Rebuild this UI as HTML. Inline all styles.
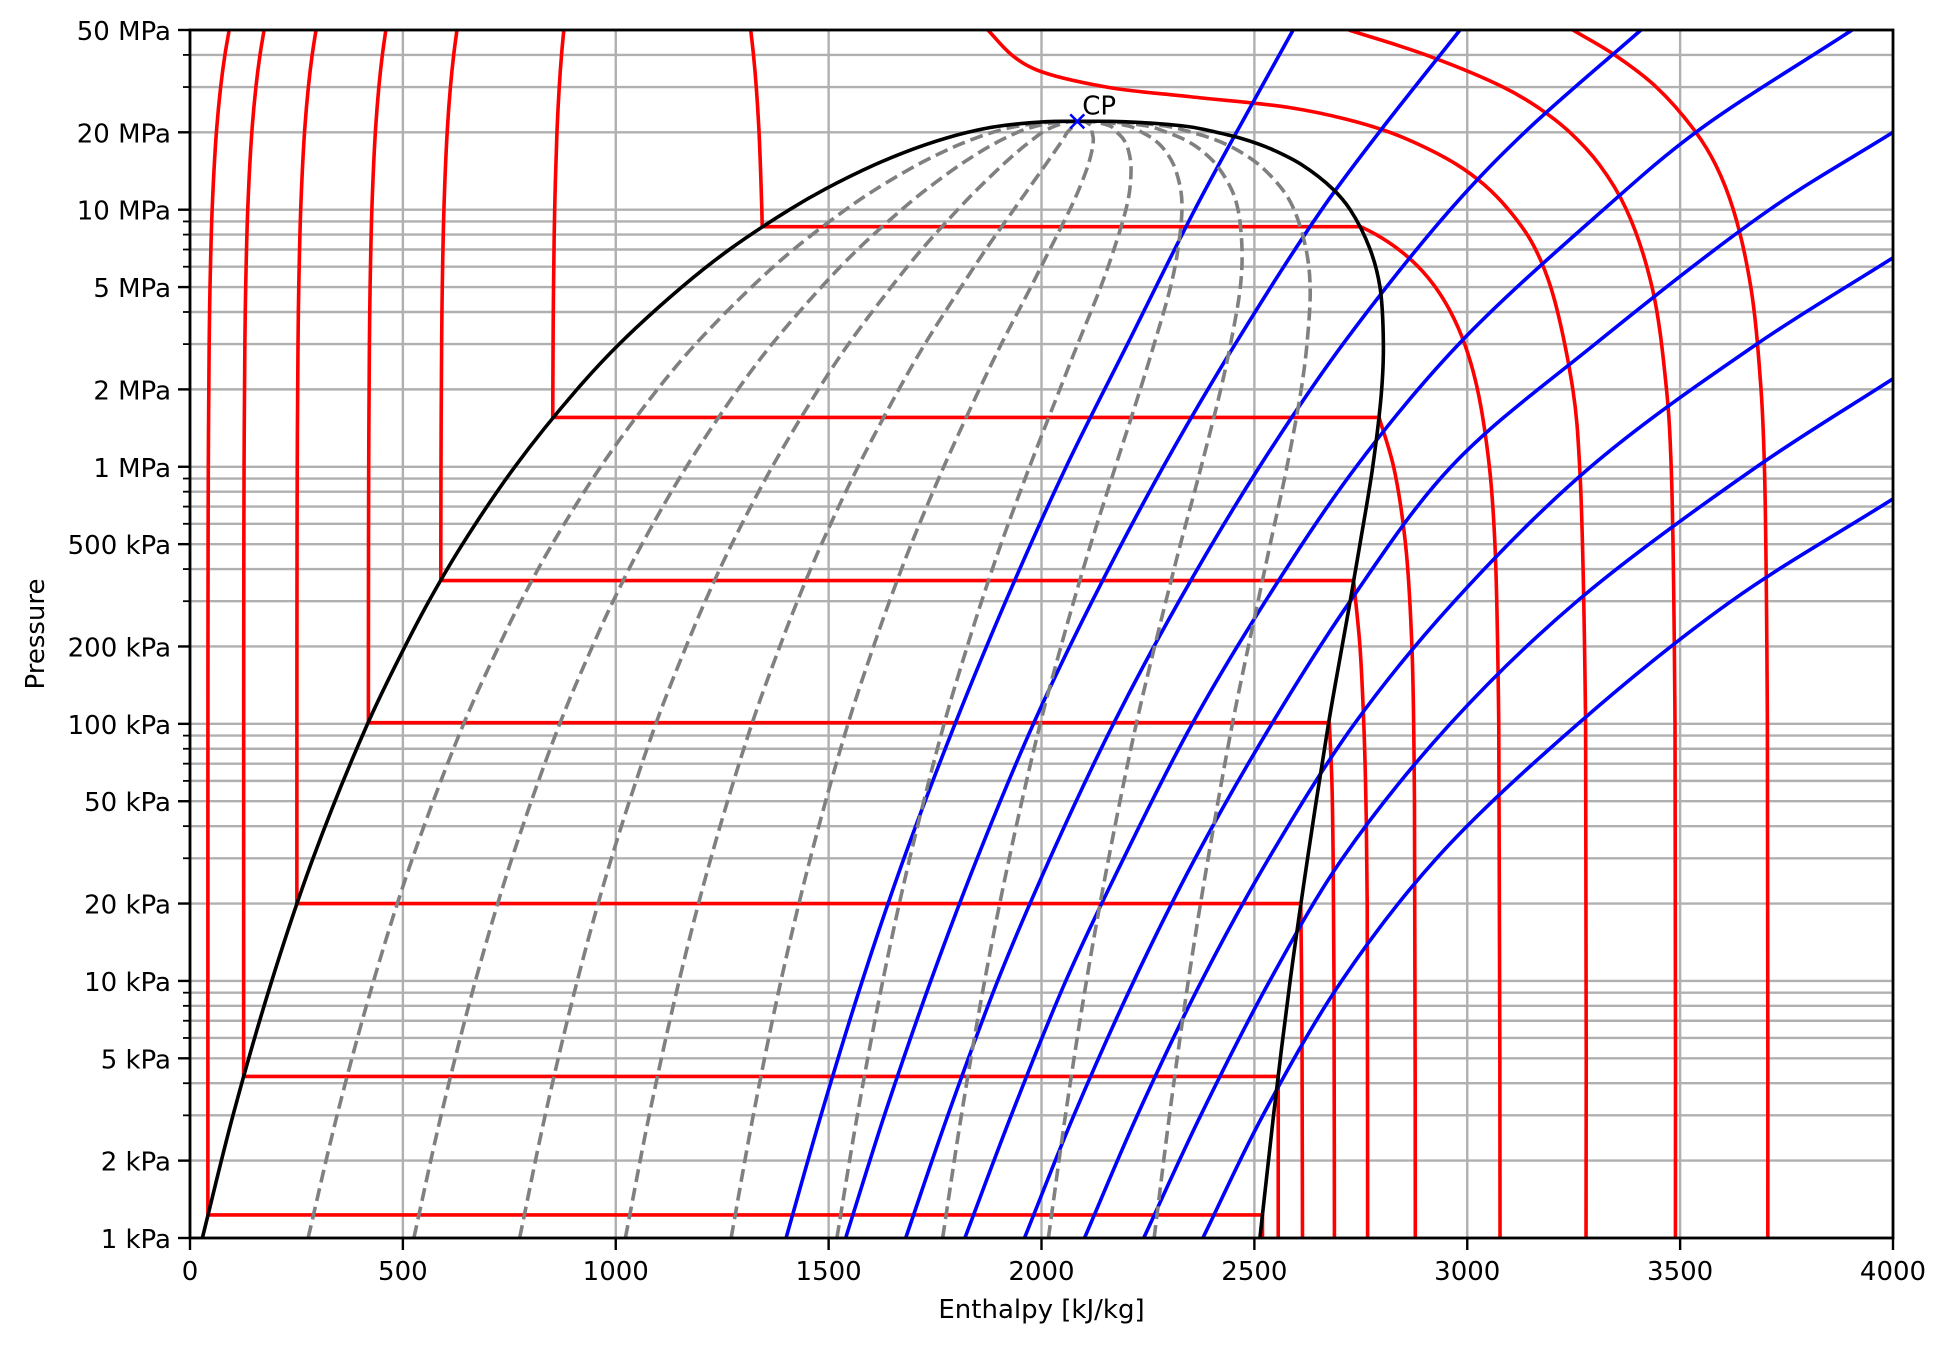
<!DOCTYPE html>
<html><head><meta charset="utf-8"><style>
html,body{margin:0;padding:0;background:#fff;}
svg{display:block;font-family:"DejaVu Sans","Liberation Sans",sans-serif;}
</style></head><body>
<svg id="chart" width="1949" height="1345" viewBox="0 0 1949 1345" xmlns="http://www.w3.org/2000/svg">
<defs><clipPath id="plotclip"><rect x="190" y="30" width="1703" height="1208"/></clipPath></defs>
<rect x="0" y="0" width="1949" height="1345" fill="#fff"/>
<g id="grid"></g>
<g id="series" clip-path="url(#plotclip)"></g>
<g id="axes"></g>
</svg>
<script>
// ---- axis tick data ----
const xTicks = [0,500,1000,1500,2000,2500,3000,3500,4000];
const yMajorVals = [1,2,5,10,20,50,100,200,500,1000,2000,5000,10000,20000,50000];
const yMajorLabels = ["1 kPa","2 kPa","5 kPa","10 kPa","20 kPa","50 kPa","100 kPa","200 kPa","500 kPa","1 MPa","2 MPa","5 MPa","10 MPa","20 MPa","50 MPa"];
const yMinorVals = [3,4,6,7,8,9,30,40,60,70,80,90,300,400,600,700,800,900,3000,4000,6000,7000,8000,9000,30000,40000];

// ---- saturation table (P kPa, hf, hg kJ/kg) ----
const satP  = [1,3,10,30,100,200,300,500,1000,2000,3000,5000,7000,10000,12000,15000,17000,18000,19000,20000,21000,22000,22064];
const satHf = [29,101,192,289,417,505,561,640,763,909,1008,1155,1267,1408,1491,1610,1690,1732,1777,1827,1889,2011,2084];
const satHg = [2513,2545,2584,2625,2674,2706,2725,2748,2778,2799,2803,2795,2772,2725,2685,2610,2547,2510,2466,2411,2349,2192,2084];
const qualities = [0.1,0.2,0.3,0.4,0.5,0.6,0.7,0.8,0.9];
const critical = [2084,22064];

// ---- subcritical isotherms ----
const isoT   = [10,30,60,100,140,200,300];
const isoPsat= [1.23,4.25,20,101,361,1555,8588];
const isoHf  = [42,126,251,419,589,852,1344];
const isoHtop= [92,174,296,460,627,878,1317];
const isoHg  = [2519,2556,2609,2676,2733,2793,2750];
const vapP10 = [1.23,1];            const vapH10 = [2519,2519];
const vapP30 = [4.25,1];            const vapH30 = [2556,2556];
const vapP60 = [20,10,5,1];         const vapH60 = [2609,2611,2612,2613];
const vapP100= [101,60,30,10,1];    const vapH100= [2676,2682,2685,2687,2688];
const vapP140= [361,200,100,50,20,1]; const vapH140=[2733,2748,2757,2762,2765,2766];
const vapP200= [1555,1000,500,200,50,1]; const vapH200=[2793,2827,2855,2870,2876,2878];
const vapP300= [8588,8000,7000,6000,5000,4000,3000,2000,1000,500,100,1];
const vapH300= [2750,2786,2839,2885,2925,2961,2994,3024,3052,3065,3074,3077];
// ---- supercritical isotherms ----
const supP400 = [50000,40000,35000,30000,27500,25000,22500,20000,17500,15000,12500,10000,7500,5000,2000,1000,100,1];
const supH400 = [1874,1930,1988,2152,2350,2580,2715,2818,2900,2975,3040,3097,3151,3196,3248,3264,3278,3279];
const supP500 = [50000,40000,30000,25000,20000,15000,10000,5000,2000,1000,100,1];
const supH500 = [2722,2903,3084,3166,3241,3310,3374,3434,3468,3479,3488,3489];
const supP600 = [50000,40000,30000,20000,15000,10000,5000,2000,1000,100,1];
const supH600 = [3248,3346,3444,3537,3583,3625,3666,3690,3698,3705,3706];

// ---- isentropes ----
const sP5   = [1,3,10,30,100,300,1000,3000,10000,20000,50000]; const sH5  = [1400,1482,1579,1677,1797,1916,2058,2202,2360,2458,2591];
const sP55  = [1,3,10,30,100,300,1000,3000,10000,20000,50000]; const sH55 = [1540,1631,1740,1849,1981,2119,2286,2455,2658,2793,2983];
const sP6   = [1,3,10,30,100,300,1000,3000,10000,20000,50000]; const sH6  = [1681,1780,1897,2020,2169,2323,2512,2708,2960,3135,3408];
const sP65  = [1,3,10,30,100,300,1000,3000,10000,20000,50000]; const sH65 = [1820,1929,2057,2193,2354,2526,2739,2980,3320,3537,3904];
const sP7   = [1,3,10,30,100,300,1000,3000,10000,20000];       const sH7  = [1960,2076,2217,2361,2541,2725,2962,3300,3710,4000];
const sP75  = [1,3,10,30,100,300,1000,3000,6500];              const sH75 = [2101,2225,2376,2534,2735,2970,3290,3680,4000];
const sP8   = [1,3,10,30,100,300,1000,2200];                   const sH8  = [2240,2374,2536,2707,2960,3258,3680,4000];
const sP85  = [1,3,10,30,100,300,750];                         const sH85 = [2379,2520,2705,2928,3260,3620,4000];

// ---- axes ----
const X0=190,X1=1893,Y0=1238,Y1=30,HMAX=4000,LMIN=0,LMAX=Math.log10(50000);
function sx(h){return X0+(h/HMAX)*(X1-X0);}
function sy(p){return Y0-(Math.log10(p)-LMIN)/(LMAX-LMIN)*(Y0-Y1);}
const NS="http://www.w3.org/2000/svg";
function mk(tag,attrs,parent){const e=document.createElementNS(NS,tag);for(const k in attrs)e.setAttribute(k,attrs[k]);parent.appendChild(e);return e;}
function dist(a,b){return Math.max(Math.hypot(a[0]-b[0],a[1]-b[1]),1e-6);}
function f2(v){return v.toFixed(2);}
function spline(pts,noMove){
  if(pts.length<2)return "";
  let d=noMove?"":"M"+f2(pts[0][0])+","+f2(pts[0][1]);
  if(pts.length===2)return d+"L"+f2(pts[1][0])+","+f2(pts[1][1]);
  const n=pts.length;
  for(let i=0;i<n-1;i++){
    const p1=pts[i],p2=pts[i+1];
    const p0=i>0?pts[i-1]:[2*p1[0]-p2[0],2*p1[1]-p2[1]];
    const p3=i<n-2?pts[i+2]:[2*p2[0]-p1[0],2*p2[1]-p1[1]];
    const d1=dist(p0,p1),d2=dist(p1,p2),d3=dist(p2,p3);
    const s1=Math.sqrt(d1),s2=Math.sqrt(d2),s3=Math.sqrt(d3);
    const b1=[0,1].map(k=>(d1*p2[k]-d2*p0[k]+(2*d1+3*s1*s2+d2)*p1[k])/(3*s1*(s1+s2)));
    const b2=[0,1].map(k=>(d3*p1[k]-d2*p3[k]+(2*d3+3*s3*s2+d2)*p2[k])/(3*s3*(s3+s2)));
    d+="C"+f2(b1[0])+","+f2(b1[1])+" "+f2(b2[0])+","+f2(b2[1])+" "+f2(p2[0])+","+f2(p2[1]);
  }
  return d;
}
function pix(H,P){return H.map((h,i)=>[sx(h),sy(P[i])]);}

const grid=document.getElementById('grid'),ser=document.getElementById('series'),ax=document.getElementById('axes');
xTicks.forEach(v=>{
  const l=mk('line',{x1:sx(v),x2:sx(v),y1:Y1,y2:Y0,stroke:'#b0b0b0','stroke-width':2.4},grid);
  
  
});
yMajorVals.concat(yMinorVals).forEach(v=>{
  const l=mk('line',{x1:X0,x2:X1,y1:sy(v),y2:sy(v),stroke:'#b0b0b0','stroke-width':2.4},grid);
  
  
});

// isotherms
const vapPs=[vapP10,vapP30,vapP60,vapP100,vapP140,vapP200,vapP300];
const vapHs=[vapH10,vapH30,vapH60,vapH100,vapH140,vapH200,vapH300];
const liqPs=[1,3,10,30,100,300,1000,3000,5000,10000,20000,30000,40000,50000];
isoT.forEach((T,i)=>{
  const ps=isoPsat[i];
  const lp=[ps].concat(liqPs.filter(p=>p>ps*1.05));
  const liq=lp.map(p=>[sx(isoHf[i]+(isoHtop[i]-isoHf[i])*(p-ps)/(50000-ps)),sy(p)]);
  liq.reverse();
  let d=spline(liq);
  d+="L"+f2(sx(isoHg[i]))+","+f2(sy(ps));
  d+=spline(pix(vapHs[i],vapPs[i]),true);
  const path=mk('path',{d:d,fill:'none',stroke:'#ff0000','stroke-width':3.6,'stroke-linejoin':'round'},ser);
  
  
});
[[supH400,supP400,400],[supH500,supP500,500],[supH600,supP600,600]].forEach(a=>{
  const path=mk('path',{d:spline(pix(a[0],a[1])),fill:'none',stroke:'#ff0000','stroke-width':3.6},ser);
  
  
});

// isentropes
[[sH5,sP5,'5'],[sH55,sP55,'5-5'],[sH6,sP6,'6'],[sH65,sP65,'6-5'],[sH7,sP7,'7'],[sH75,sP75,'7-5'],[sH8,sP8,'8'],[sH85,sP85,'8-5']].forEach(a=>{
  const path=mk('path',{d:spline(pix(a[0],a[1])),fill:'none',stroke:'#0000ff','stroke-width':3.6},ser);
  
  
});

// quality lines
qualities.forEach(q=>{
  const pts=satP.map((p,i)=>[sx(satHf[i]+q*(satHg[i]-satHf[i])),sy(p)]);
  const path=mk('path',{d:spline(pts),fill:'none',stroke:'#808080','stroke-width':3.6,'stroke-dasharray':'13,6'},ser);
  
  
});

// saturation dome
(function(){
  const liq=satP.map((p,i)=>[sx(satHf[i]),sy(p)]);
  const vap=satP.map((p,i)=>[sx(satHg[i]),sy(p)]).reverse().slice(1);
  const path=mk('path',{d:spline(liq.concat(vap)),fill:'none',stroke:'#000','stroke-width':3.6},ser);
  
  
})();

// critical point
(function(){
  const cx=sx(critical[0]),cy=sy(critical[1]);
  const g=mk('g',{},ser);
  
  
  mk('line',{x1:cx-7,y1:cy-7,x2:cx+7,y2:cy+7,stroke:'#0000ff','stroke-width':2.5},g);
  mk('line',{x1:cx-7,y1:cy+7,x2:cx+7,y2:cy-7,stroke:'#0000ff','stroke-width':2.5},g);
  const t=mk('text',{x:cx+5,y:cy-7,'font-size':26,fill:'#000'},ser);
  t.textContent='CP';
  
  
})();

const fr=mk('rect',{x:X0,y:Y1,width:X1-X0,height:Y0-Y1,fill:'none',stroke:'#000','stroke-width':2.8},ax);


xTicks.forEach(v=>{
  mk('line',{x1:sx(v),x2:sx(v),y1:Y0,y2:Y0+12,stroke:'#000','stroke-width':2.4},ax);
  const t=mk('text',{x:sx(v),y:Y0+42,'font-size':26,'text-anchor':'middle',fill:'#000'},ax);
  t.textContent=v;
  
  
});
yMajorVals.forEach((v,i)=>{
  mk('line',{x1:X0-12,x2:X0,y1:sy(v),y2:sy(v),stroke:'#000','stroke-width':2.4},ax);
  const t=mk('text',{x:X0-19,y:sy(v)+10,'font-size':26,'text-anchor':'end',fill:'#000'},ax);
  t.textContent=yMajorLabels[i];
  
  
});
yMinorVals.forEach(v=>{
  mk('line',{x1:X0-7,x2:X0,y1:sy(v),y2:sy(v),stroke:'#000','stroke-width':1.8},ax);
});
const xt=mk('text',{x:(X0+X1)/2,y:1318,'font-size':26,'text-anchor':'middle',fill:'#000'},ax);
xt.textContent='Enthalpy [kJ/kg]';


const yt=mk('text',{x:0,y:0,'font-size':26,'text-anchor':'middle',fill:'#000',transform:'translate(44,'+((Y0+Y1)/2)+') rotate(-90)'},ax);
yt.textContent='Pressure';


</script>
</body></html>
